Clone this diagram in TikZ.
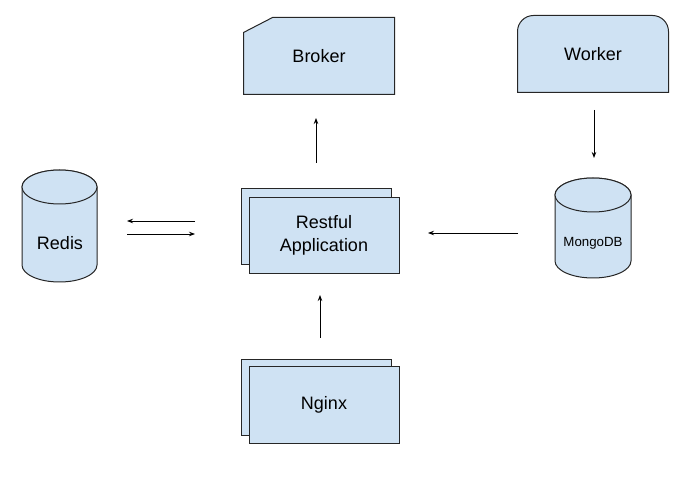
\documentclass[tikz,border=0pt]{standalone}
\usepackage{fontspec}
\setmainfont{Liberation Sans}
\usepackage{tikz}
\usetikzlibrary{positioning}
\usetikzlibrary{arrows.meta}
\usetikzlibrary{calc}
\definecolor{boxblue}{HTML}{CFE2F3}
\definecolor{linegray}{HTML}{262626}
\pgfdeclarelayer{background}
\pgfsetlayers{background,main}
\tikzset{outline/.style={fill=boxblue,draw=linegray,line width=1pt}}

\begin{document}
\begin{tikzpicture}[x=1pt,y=-1pt]
	\useasboundingbox (0,0) rectangle (691,478);

	\begin{scope}[every node/.style={outline,
	              minimum width=150pt,minimum height=76pt,inner sep=0pt,
	              font=\fontsize{18}{23}\selectfont,align=center}]
	    \node (appback) at (316,226.5) {};
	    \node (app) at (324,235.5) {Restful\\Application};
	    \node (nginxback) at (316,397.5) {};
	    \node (nginx) at (324,405) {Nginx};
	    \node[draw=none,fill=none,text depth=0pt,yshift=-1pt] (broker) at (319,55) {Broker};
	    \node[draw=none,fill=none,text depth=0pt,yshift=1pt] (worker) at (593,55) {Worker};
	    \node[draw=none,fill=none,minimum size=0pt] (redis) at (60,243) {Redis};
	    \node[draw=none,fill=none,minimum size=0pt,font=\fontsize{13.3}{16}\selectfont]
	          (mongo) at (593,243) {MongoDB};
	\end{scope}

	\begin{pgfonlayer}{background}
	    \filldraw[outline]
	        (broker.south west) -- ($(broker.north west)+(0,15)$)
	        -- ($(broker.north west)+(29,0)$) -- (broker.north east)
	        -- (broker.south east) -- cycle;
	    \filldraw[outline]
	        (worker.south west) [rounded corners=16pt] -- (worker.north west)
	        -- (worker.north east) [sharp corners] -- (worker.south east) -- cycle;
	    % cylinders
	    \filldraw[outline] (22,187) -- (22,265)
	        arc[start angle=180,end angle=0,x radius=37.5,y radius=17]
	        -- (97,187) arc[start angle=0,end angle=-180,x radius=37.5,y radius=17];
	    \filldraw[outline] (59.5,187) ellipse [x radius=37.5,y radius=17];
	    \filldraw[outline] (555,195) -- (555,261)
	        arc[start angle=180,end angle=0,x radius=38,y radius=17]
	        -- (631,195) arc[start angle=0,end angle=-180,x radius=38,y radius=17];
	    \filldraw[outline] (593,195) ellipse [x radius=38,y radius=17];
	\end{pgfonlayer}

	% free ends of the arrows
	\coordinate (brokerin) at (316,118);
	\coordinate (brokerout) at (316,163);
	\coordinate (workerout) at (594,110);
	\coordinate (mongoin) at (594,158);
	\coordinate (redisget) at (127,221);
	\coordinate (appget) at (195,221);
	\coordinate (redisput) at (195,234);
	\coordinate (appput) at (127,234);
	\coordinate (mongoout) at (518,233);
	\coordinate (appin) at (428,233);
	\coordinate (nginxout) at (320,338);
	\coordinate (appfront) at (320,295);

	\begin{scope}[>={Stealth[length=6pt,width=4.5pt]},
	              every edge/.style={draw=black,line width=0.9pt}]
	    \path [->] (brokerout) edge (brokerin);
	    \path [->] (workerout) edge (mongoin);
	    \path [->] (appget) edge (redisget);
	    \path [->] (appput) edge (redisput);
	    \path [->] (mongoout) edge (appin);
	    \path [->] (nginxout) edge (appfront);
	\end{scope}
\end{tikzpicture}
\end{document}
